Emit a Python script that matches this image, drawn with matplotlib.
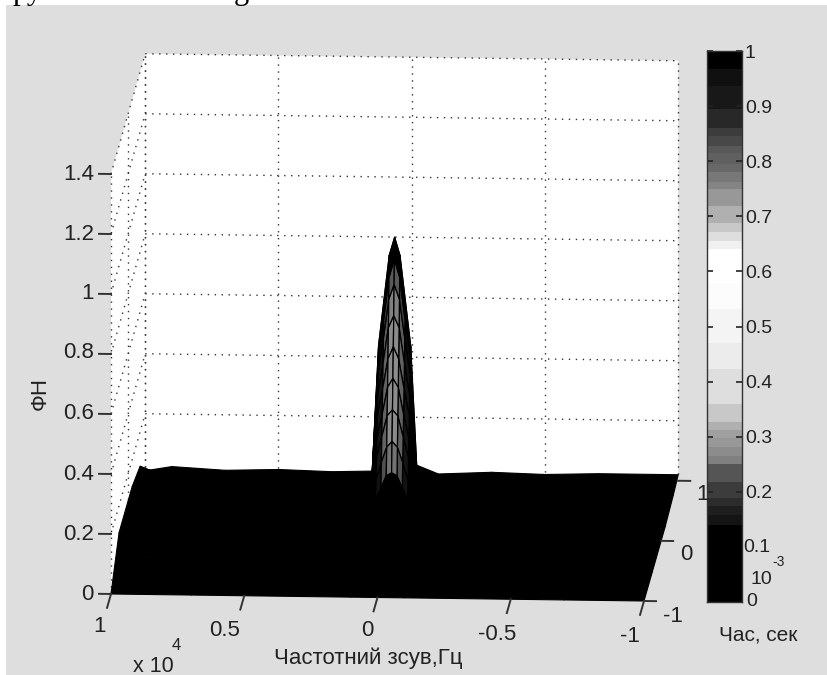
import numpy as np
import matplotlib
matplotlib.use('Agg')
import matplotlib.pyplot as plt
from matplotlib.patches import Rectangle
from mpl_toolkits.mplot3d.art3d import Poly3DCollection

plt.rcParams['font.family'] = ['Liberation Sans', 'DejaVu Sans']

W, H = 828, 675

# axis ticks
freq_ticks = [1, 0.5, 0, -0.5, -1]
time_ticks = [-1, 0, 1]
fn_ticks = [0, 0.2, 0.4, 0.6, 0.8, 1, 1.2, 1.4]

# flat part of the surface (freq in 1e4 Hz, time in 1e-3 s)
base_freq = [1, 0.9, 0.7, 0.5, 0.3, 0.1, 0.0, -0.02, -0.1, -0.3, -0.5, -0.7, -1]
base_time = [-1, -0.53, 0.235, 0.7, 1]
base_fn = [
    [0.00, 0.00, 0.00, 0.00, 0.00, 0.00, 0.00, 0.00, 0.00, 0.00, 0.00, 0.00, 0.00],
    [0.11, 0.03, 0.03, 0.03, 0.03, 0.03, 0.03, 0.03, 0.03, 0.03, 0.03, 0.03, 0.00],
    [0.11, 0.03, 0.03, 0.03, 0.03, 0.03, 0.03, 0.03, 0.03, 0.03, 0.03, 0.03, 0.00],
    [0.085, 0.05, 0.03, 0.03, 0.03, 0.03, 0.03, 0.03, 0.03, 0.03, 0.03, 0.03, 0.01],
    [0.01, 0.025, 0.015, 0.02, 0.015, 0.02, 0.02, 0.04, 0.012, 0.02, 0.015, 0.02, 0.02],
]

# spike around zero shift, left half of each row (mirrored for the right half)
peak_freq = [0.085, 0.06, 0.04, 0.02, 0, -0.02, -0.04, -0.06, -0.085]
peak_time = [-0.2, -0.175, -0.15, -0.125, -0.1, -0.075, -0.05, -0.03, -0.015, 0, 0.06, 0.12]
peak_half = [
    [0.03, 0.10, 0.12, 0.14, 0.15],
    [0.05, 0.16, 0.20, 0.24, 0.25],
    [0.07, 0.22, 0.28, 0.33, 0.35],
    [0.09, 0.29, 0.36, 0.43, 0.45],
    [0.11, 0.35, 0.43, 0.52, 0.55],
    [0.13, 0.42, 0.51, 0.61, 0.65],
    [0.15, 0.48, 0.59, 0.71, 0.75],
    [0.17, 0.55, 0.67, 0.80, 0.85],
    [0.19, 0.60, 0.73, 0.87, 0.93],
    [0.20, 0.64, 0.79, 0.94, 1.00],
    [0.12, 0.38, 0.47, 0.56, 0.60],
    [0.03, 0.06, 0.08, 0.09, 0.10],
]
peak_row_gray = [0.0, 0.45, 0.55, 0.55, 0.55, 0.55, 0.5, 0.35, 0.0, 0.0, 0.0]
peak_col_gray = [0.0, 0.15, 0.7, 1.0, 1.0, 0.7, 0.15, 0.0]

# colorbar bands, value edges and gray levels
cbar_edges = [0, 0.14, 0.158, 0.174, 0.188, 0.218, 0.25, 0.265, 0.282, 0.297, 0.312, 0.327,
              0.359, 0.422, 0.47, 0.531, 0.579, 0.64, 0.656, 0.672, 0.687, 0.719, 0.749,
              0.763, 0.781, 0.795, 0.815, 0.828, 0.845, 0.86, 0.894, 0.936, 0.968, 1.0]
cbar_grays = [0, 20, 30, 44, 60, 85, 128, 140, 152, 160, 176, 200,
              222, 236, 244, 252, 255, 240, 222, 200, 176, 152, 132,
              120, 104, 96, 88, 72, 60, 40, 24, 16, 0]
cbar_ticks = [0.2, 0.3, 0.4, 0.5, 0.6, 0.7, 0.8, 0.9, 1]
cbar_tick_labels = ['0.2', '0.3', '0.4', '0.5', '0.6', '0.7', '0.8', '0.9', '1']


def fx(x):
    return x / W


def fy(y):
    return 1 - y / H


def px_text(x, y, s, **kw):
    kw.setdefault('ha', 'center')
    kw.setdefault('va', 'center')
    kw.setdefault('fontsize', 16)
    kw.setdefault('color', '#222222')
    return fig.text(fx(x), fy(y), s, **kw)


fig = plt.figure(figsize=(W / 100, H / 100), dpi=100, facecolor='white')
fig.patches.append(Rectangle((fx(6), 0), 1 - fx(6), fy(5), transform=fig.transFigure,
                             facecolor='#dedede', edgecolor='none', zorder=-10))

# cut off line of the page text above the picture
px_text(13, -1, 'ру', family='Liberation Serif', fontsize=22, color='black', ha='left', va='baseline')
px_text(234, -1, 'g', family='Liberation Serif', fontsize=22, color='black', ha='left', va='baseline')

# square 3D axes, placed so the box lands where the reference has it
ax = fig.add_axes([fx(-47), fy(769), 860 / W, 860 / H], projection='3d', computed_zorder=False)
ax.set_proj_type('ortho')
ax.view_init(elev=12.4, azim=-86.5)
ax.set_box_aspect((534, 561, 430))
ax.set_xlim(1, -1)
ax.set_ylim(-1, 1)
ax.set_zlim(0, 1.4)
ax.set_axis_off()
ax.patch.set_visible(False)

# white walls
back_wall = [(1, 1, 0), (-1, 1, 0), (-1, 1, 1.4), (1, 1, 1.4)]
side_wall = [(1, -1, 0), (1, 1, 0), (1, 1, 1.4), (1, -1, 1.4)]
ax.add_collection3d(Poly3DCollection([back_wall, side_wall], facecolor='white', edgecolor='none',
                                     zorder=1), autolim=False)

# dotted grid
grid_kw = dict(color='#333333', linewidth=1.0, linestyle=(0, (1, 4)), zorder=2)
for z in fn_ticks:
    ax.plot([1, -1], [1, 1], [z, z], **grid_kw)
    ax.plot([1, 1], [-1, 1], [z, z], **grid_kw)
for f in freq_ticks:
    ax.plot([f, f], [1, 1], [0, 1.4], **grid_kw)
for t in time_ticks:
    ax.plot([1, 1], [t, t], [0, 1.4], **grid_kw)

# surface
F, T = np.meshgrid(base_freq, base_time)
ax.plot_surface(F, T, np.array(base_fn), color='black', shade=False, edgecolor='black',
                linewidth=0.8, rstride=1, cstride=1, zorder=3)

half = np.array(peak_half)
peak_fn = np.hstack([half, half[:, -2::-1]])
F, T = np.meshgrid(peak_freq, peak_time)
gray = np.outer(peak_row_gray, peak_col_gray)
face = np.dstack([gray, gray, gray, np.ones_like(gray)])
peak = ax.plot_surface(F, T, peak_fn, facecolors=face, shade=False, rstride=1, cstride=1,
                       linewidth=0.9, zorder=4)
peak.set_edgecolor('black')

# ticks drawn in data space, as the box is not a normal axis
tick_kw = dict(color='#333333', linewidth=1.4, zorder=5)
for z in fn_ticks:
    ax.plot([1, 1.045], [-1, -1], [z, z], **tick_kw)
for f in freq_ticks:
    ax.plot([f, f], [-1, -1.23], [0, 0], **tick_kw)
for t in time_ticks:
    ax.plot([-1, -1.045], [t, t], [0, 0], **tick_kw)

# tick labels
for z, y, s in zip(fn_ticks, [594, 534, 474, 414, 353, 294, 234, 174],
                   ['0', '0.2', '0.4', '0.6', '0.8', '1', '1.2', '1.4']):
    px_text(94, y, s, ha='right')
for s, x, y in zip(['1', '0.5', '0', '-0.5', '-1'], [100, 225, 367, 497, 630], [627, 630, 631, 634, 637]):
    px_text(x, y, s)
for s, x, y in zip(['-1', '0', '1'], [673, 686, 703], [617, 555, 495]):
    px_text(x, y, s)

px_text(153, 666, 'x 10', fontsize=15.5)
px_text(176, 645, '4', fontsize=12)
px_text(368, 658, 'Частотний зсув,Гц', fontsize=16)
px_text(40, 393, 'ФН', rotation=90)

# colorbar
cax = fig.add_axes([fx(707), fy(602), 35 / W, 551 / H])
cax.pcolormesh([0, 1], cbar_edges, np.array(cbar_grays)[:, None], cmap='gray', vmin=0, vmax=255)
cax.set_ylim(0, 1)
cax.set_xticks([])
cax.set_yticks(cbar_ticks)
cax.set_yticklabels(cbar_tick_labels, fontsize=14, color='#222222')
cax.tick_params(axis='y', direction='in', left=True, right=True, labelleft=False, labelright=True,
                length=4, width=1.2, pad=2, color='#222222')
for side in cax.spines:
    cax.spines[side].set_color('#333333')
    cax.spines[side].set_linewidth(1.0)

px_text(757, 547, '0.1', fontsize=14)
px_text(761, 580, '10', fontsize=14)
px_text(779, 562, '-3', fontsize=10)
px_text(752, 602, '0', fontsize=14)
px_text(758, 635, 'Час, сек', fontsize=15)

plt.savefig('out.png', dpi=100)
